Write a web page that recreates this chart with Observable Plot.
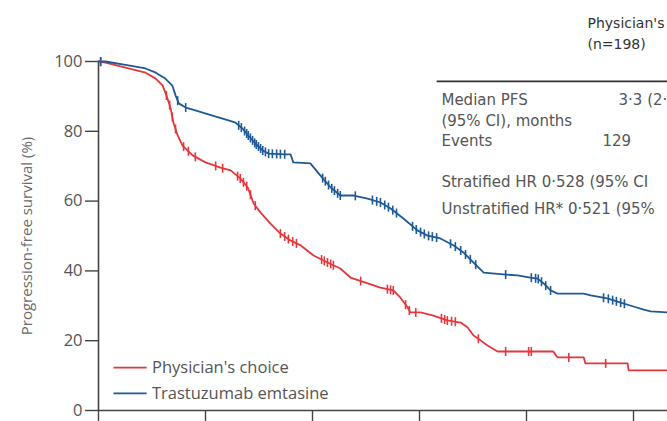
<!DOCTYPE html>
<html><head><meta charset="utf-8">
<script src="https://cdn.jsdelivr.net/npm/d3@7"></script>
<script src="https://cdn.jsdelivr.net/npm/@observablehq/plot@0.6"></script>
<style>
html,body{margin:0;padding:0;background:#fff;overflow:hidden;}
#chart svg{display:block;overflow:visible;}
</style></head><body><div id="chart"></div>
<script>
// ---- data (months, % progression-free) ----
const seriesNames = ["Physician's choice", "Trastuzumab emtasine"];
const seriesColors = ["#e3373c", "#1f5996"];

const redTime = [0,0.13,0.56,0.88,1.07,1.20,1.25,1.29,1.35,1.40,1.48,1.57,1.76,2.00,2.28,2.47,2.65,2.79,2.90,3.03,3.21,3.40,3.59,3.78,4.02,4.28,4.52,4.71,5.03,5.27,5.51,5.64,5.78,5.83,6.02,6.26,6.52,6.77,6.90,7.01,7.14,7.27,7.46,8.50,8.58,9.07,9.10,9.89,9.91,10.64];
const redSurv = [100,99.7,98.0,96.8,95.1,93.1,91.1,89.4,86.5,82.5,78.8,75.9,73.1,71.1,69.6,68.8,66.5,63.9,59.3,56.7,53.6,50.7,48.7,47.3,44.4,42.4,40.7,38.1,36.4,35.2,34.4,32.4,29.5,28.1,28.1,27.2,25.8,25.2,23.8,21.5,20.1,18.6,16.9,16.9,15.2,15.2,13.5,13.5,11.5,11.5];

const blueTime = [0,0.13,0.56,0.88,1.07,1.25,1.38,1.44,1.50,1.63,1.81,2.13,2.43,2.56,2.69,2.80,2.93,3.07,3.18,3.50,3.59,3.64,3.96,4.15,4.34,4.52,4.77,5.03,5.27,5.46,5.70,5.96,6.15,6.39,6.64,6.82,7.01,7.20,7.57,7.83,8.07,8.21,8.32,8.45,8.58,9.07,9.20,9.51,9.76,10.00,10.19,10.32,10.64];
const blueSurv = [100,100,98.9,98.0,96.8,95.1,93.1,90.3,88.0,86.8,86.0,84.5,83.1,82.5,80.8,78.8,76.5,74.5,73.6,73.4,73.4,71.1,70.8,67.3,63.9,61.6,61.6,60.7,59.6,57.9,55.0,51.6,50.1,49.3,47.3,45.3,42.4,39.5,39.0,38.7,38.1,37.8,36.4,34.4,33.5,33.5,33.0,32.1,30.9,29.8,28.9,28.4,28.1];

const redCensor = [0.04,1.27,1.33,1.38,1.44,1.59,1.68,1.81,2.19,2.32,2.60,2.65,2.71,2.77,2.84,2.93,3.40,3.48,3.55,3.63,3.70,4.17,4.22,4.28,4.34,4.39,4.90,5.40,5.46,5.51,5.74,5.81,5.93,6.41,6.47,6.52,6.60,6.67,7.10,7.61,8.04,8.09,8.79,9.48];
const blueCensor = [0.04,1.48,1.63,2.62,2.67,2.73,2.77,2.80,2.84,2.88,2.92,2.95,2.99,3.03,3.07,3.12,3.18,3.25,3.33,3.40,3.48,4.19,4.24,4.30,4.36,4.41,4.47,4.52,4.80,5.12,5.20,5.27,5.35,5.42,5.50,5.57,5.87,5.94,6.02,6.09,6.17,6.24,6.32,6.58,6.67,6.77,6.86,6.95,7.05,7.61,8.09,8.17,8.22,8.28,8.36,8.45,9.44,9.53,9.61,9.68,9.76,9.83];

const yTicks = [0,20,40,60,80,100];
const xTicks = [0,2,4,6,8,10];
const yLabel = "Progression-free survival (%)";

const tableHeader = ["Physician's", "(n=198)"];
const tableRowLabels = ["Median PFS", "(95% CI), months", "Events"];
const tableRowValues = ["3·3 (2·", "", "129"];
const hrLines = ["Stratified HR 0·528 (95% CI", "Unstratified HR* 0·521 (95%"];

// ---- build ----
function curve(times, surv, name) { return times.map((t, i) => ({t, s: surv[i], name})); }
function survAt(times, surv, t) {
  for (let i = 0; i < times.length - 1; i++) {
    if (t >= times[i] && t <= times[i + 1]) {
      const f = (t - times[i]) / ((times[i + 1] - times[i]) || 1);
      return surv[i] + f * (surv[i + 1] - surv[i]);
    }
  }
  return surv[surv.length - 1];
}
const lines = [...curve(redTime, redSurv, seriesNames[0]), ...curve(blueTime, blueSurv, seriesNames[1])];
const censors = [
  ...redCensor.map(t => ({t, s: survAt(redTime, redSurv, t), name: seriesNames[0]})),
  ...blueCensor.map(t => ({t, s: survAt(blueTime, blueSurv, t), name: seriesNames[1]}))
];
const tickSymbol = {draw(ctx, size) { const r = Math.sqrt(size / Math.PI); ctx.moveTo(0, -r); ctx.lineTo(0, r); }};

// annotation layout (data units)
const colX = 6.41, valX = [9.72, 9.72, 9.42], headX = 9.14;
const tableText = [
  {text: tableHeader[0], x: headX, y: 110.9, w: "bold", c: "#333", f: 14},
  {text: tableHeader[1], x: headX, y: 104.9, w: "bold", c: "#333", f: 14},
  ...tableRowLabels.map((text, i) => ({text, x: colX, y: [89.0, 82.8, 77.1][i], w: "normal", c: "#555", f: 15})),
  ...tableRowValues.map((text, i) => ({text, x: valX[i], y: [89.0, 82.8, 77.1][i], w: "normal", c: "#555", f: 15})),
  ...hrLines.map((text, i) => ({text, x: colX, y: [65.3, 57.6][i], w: "normal", c: "#555", f: 15}))
];
const legend = seriesNames.map((name, i) => ({name, x1: 0.28, x2: 0.90, xt: 1.0, y: [12.3, 4.9][i]}));

const font = "'Open Sans', Lato, sans-serif";
const xMax = (667 - 98) / 53.5;
const plot = Plot.plot({
  width: 667, height: 421,
  marginLeft: 98, marginRight: 0, marginTop: 61, marginBottom: 11,
  style: {fontFamily: font, fontSize: "15px", color: "#555", background: "#fff"},
  x: {domain: [0, xMax]},
  y: {domain: [0, 100]},
  color: {domain: seriesNames, range: seriesColors},
  marks: [
    Plot.axisY(yTicks, {tickSize: 13, tickPadding: 3, label: null, fontSize: 16.5, stroke: "#444", strokeWidth: 1.4, fill: "#555"}),
    Plot.axisY([], {label: yLabel, labelArrow: "none", labelAnchor: "center", labelOffset: 77, fontSize: 15, fill: "#6a6a6a"}),
    Plot.axisX(xTicks, {tickSize: 12, tickFormat: () => "", label: null, stroke: "#444", strokeWidth: 1.4}),
    Plot.ruleX([0], {stroke: "#444", strokeWidth: 1.6}),
    Plot.ruleY([0], {stroke: "#444", strokeWidth: 1.6}),
    Plot.link([0], {x1: 6.32, x2: xMax, y1: 94.3, y2: 94.3, stroke: "#333", strokeWidth: 1.6}),
    Plot.line(lines, {x: "t", y: "s", z: "name", stroke: "name", strokeWidth: 1.8}),
    Plot.dot(censors, {x: "t", y: "s", stroke: "name", symbol: tickSymbol, r: 4.5, strokeWidth: 1.6, fill: "none"}),
    Plot.text(tableText, {x: "x", y: "y", text: "text", textAnchor: "start", fontSize: "f", fill: "c", fontWeight: "w", fontFamily: "'DejaVu Sans', sans-serif"}),
    Plot.link(legend, {x1: "x1", x2: "x2", y1: "y", y2: "y", stroke: "name", strokeWidth: 1.8}),
    Plot.text(legend, {x: "xt", y: "y", text: "name", textAnchor: "start", fontSize: 16.5, fill: "#555"})
  ]
});
document.getElementById("chart").appendChild(plot);
</script></body></html>
